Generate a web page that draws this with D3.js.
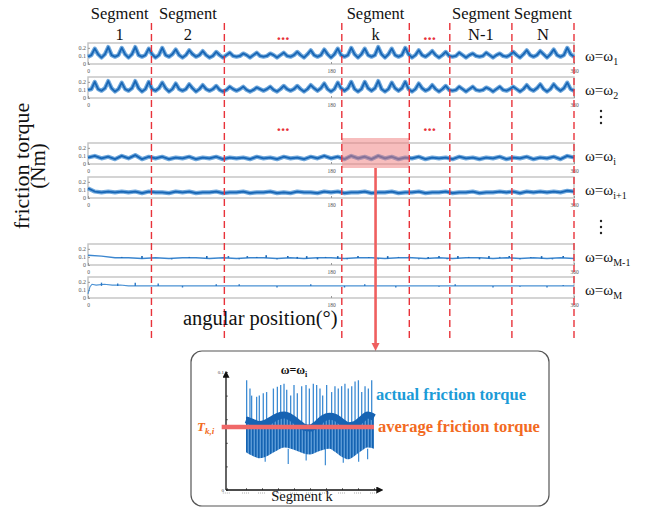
<!DOCTYPE html>
<html>
<head>
<meta charset="utf-8">
<script src="https://cdn.jsdelivr.net/npm/d3@7"></script>
<style>
  body { margin: 0; background: #fff; }
  svg { display: block; }
  text { font-family: "Liberation Serif", "Times New Roman", serif; }
</style>
</head>
<body>
<svg id="chart" width="645" height="508"></svg>
<script>
// ---- segment layout along the angular axis (degrees) ----
const segmentBoundaries = [47, 101, 188, 238, 268, 314, 360];
const segmentTitles = ["Segment", "Segment", "", "Segment", "", "Segment", "Segment"];
const segmentNames = ["1", "2", "...", "k", "...", "N-1", "N"];

// ---- panel axis ticks ----
const torqueTicks = [0, 0.1, 0.2];
const torqueTickLabels = ["0", "0.1", "0.2"];
const angleTicks = [0, 180, 360];

// ---- speed labels (subscripts of ω) ----
const speedSubscripts = ["1", "2", "i", "i+1", "M-1", "M"];

// ---- friction torque traces (Nm) ----
// ω1 and ω2 sampled every 2.5°
const torqueW1 = [
  0.09,0.11,0.19,0.12, 0.08,0.12,0.21,0.11, 0.09,0.11,0.20,0.12, 0.08,0.12,0.21,0.11,
  0.09,0.11,0.19,0.12, 0.08,0.11,0.20,0.11, 0.09,0.12,0.18,0.11, 0.08,0.11,0.17,0.12,
  0.09,0.11,0.16,0.11, 0.08,0.10,0.15,0.11, 0.08,0.11,0.14,0.10, 0.09,0.10,0.13,0.11,
  0.08,0.11,0.14,0.10, 0.09,0.10,0.13,0.11, 0.08,0.11,0.14,0.10, 0.09,0.11,0.15,0.11,
  0.08,0.12,0.17,0.11, 0.09,0.11,0.18,0.12, 0.08,0.12,0.19,0.11, 0.09,0.11,0.20,0.12,
  0.08,0.12,0.19,0.11, 0.09,0.11,0.21,0.12, 0.08,0.12,0.19,0.11, 0.09,0.11,0.20,0.12,
  0.08,0.11,0.17,0.11, 0.09,0.12,0.16,0.11, 0.08,0.11,0.15,0.10, 0.09,0.10,0.14,0.11,
  0.08,0.11,0.13,0.10, 0.09,0.10,0.14,0.11, 0.08,0.11,0.13,0.10, 0.09,0.11,0.15,0.11,
  0.08,0.12,0.17,0.11, 0.09,0.11,0.16,0.12, 0.08,0.12,0.18,0.11, 0.09,0.11,0.20,0.12,
  0.09];
const torqueW2 = [
  0.10,0.11,0.20,0.11, 0.09,0.12,0.21,0.12, 0.08,0.11,0.19,0.11, 0.09,0.12,0.21,0.12,
  0.08,0.11,0.20,0.11, 0.09,0.12,0.19,0.12, 0.08,0.11,0.18,0.11, 0.09,0.11,0.17,0.12,
  0.08,0.11,0.16,0.11, 0.09,0.11,0.15,0.10, 0.08,0.10,0.14,0.11, 0.09,0.11,0.14,0.10,
  0.08,0.10,0.13,0.11, 0.09,0.11,0.14,0.10, 0.08,0.11,0.15,0.11, 0.09,0.11,0.15,0.11,
  0.08,0.11,0.16,0.12, 0.09,0.12,0.18,0.11, 0.08,0.11,0.19,0.12, 0.09,0.12,0.20,0.11,
  0.08,0.11,0.20,0.12, 0.09,0.12,0.21,0.11, 0.08,0.11,0.19,0.12, 0.09,0.12,0.20,0.11,
  0.08,0.11,0.18,0.12, 0.09,0.11,0.16,0.11, 0.08,0.11,0.15,0.10, 0.09,0.10,0.14,0.11,
  0.08,0.11,0.14,0.10, 0.09,0.10,0.13,0.11, 0.08,0.11,0.14,0.10, 0.09,0.11,0.14,0.11,
  0.08,0.11,0.16,0.11, 0.09,0.12,0.17,0.11, 0.08,0.11,0.17,0.12, 0.09,0.12,0.19,0.11,
  0.09];
// ωi and ωi+1 sampled every 5°
const torqueWi = [
  0.08,0.10,0.07,0.09,0.06,0.10,0.07,0.11,0.06,0.09,
  0.07,0.09,0.06,0.08,0.07,0.09,0.06,0.08,0.07,0.09,
  0.06,0.08,0.07,0.08,0.06,0.09,0.07,0.08,0.06,0.09,
  0.07,0.08,0.06,0.09,0.07,0.10,0.07,0.09,0.06,0.10,
  0.07,0.09,0.06,0.10,0.07,0.09,0.06,0.08,0.07,0.09,
  0.06,0.08,0.07,0.08,0.06,0.09,0.07,0.08,0.06,0.08,
  0.07,0.09,0.06,0.08,0.07,0.09,0.06,0.08,0.07,0.09,
  0.06,0.10,0.08];
const torqueWi1 = [
  0.12,0.08,0.07,0.08,0.07,0.08,0.07,0.08,0.06,0.08,
  0.07,0.07,0.06,0.08,0.07,0.08,0.06,0.07,0.07,0.08,
  0.06,0.07,0.07,0.08,0.06,0.07,0.07,0.08,0.06,0.07,
  0.06,0.08,0.07,0.07,0.06,0.08,0.07,0.08,0.06,0.07,
  0.07,0.08,0.06,0.07,0.07,0.08,0.06,0.07,0.07,0.08,
  0.06,0.07,0.07,0.08,0.06,0.07,0.07,0.08,0.06,0.07,
  0.07,0.08,0.07,0.08,0.06,0.08,0.07,0.08,0.07,0.08,
  0.07,0.09,0.08];

// ω = ω_{M-1}: baseline sampled every 10° plus short spikes
const torqueWM1 = [
  0.12,0.11,0.09,0.09,0.08,0.09,0.08,0.09,0.09,0.08,
  0.09,0.08,0.09,0.09,0.08,0.09,0.08,0.09,0.09,0.08,
  0.09,0.09,0.08,0.09,0.09,0.08,0.09,0.08,0.09,0.09,
  0.08,0.09,0.08,0.09,0.08,0.09,0.08];
const spikeAngleWM1 = [4,8,25,40,62,75,88,104,112,118,125,132,140,148,155,162,170,176,185,192,
  200,208,215,222,230,238,245,252,260,266,274,282,290,297,305,312,320,328,336,344,352];
const spikeTorqueWM1 = [0.12,0.11,0.10,0.11,0.07,0.10,0.11,0.11,0.07,0.11,0.10,0.12,0.07,0.11,0.10,0.11,0.07,0.10,0.11,0.07,
  0.11,0.10,0.07,0.11,0.10,0.11,0.07,0.10,0.11,0.07,0.11,0.10,0.07,0.11,0.10,0.11,0.07,0.10,0.11,0.07,0.11];

// ω = ω_M: irregular sampling at start-up, then flat
const angleWM = [0, 1.5, 3, 6, 12, 18, 24, 30, 45, 60, 80, 100, 130, 160, 190, 220, 250, 280, 310, 340, 360];
const torqueWM = [0.05,0.14,0.17,0.16,0.17,0.16,0.16,0.15,0.15,0.15,0.15,0.15,0.15,0.15,0.15,0.15,0.15,0.15,0.15,0.15,0.15];
const spikeAngleWM = [10,22,35,52,70,95,112,140,165,190,205,228,260,272,300,320,340,352];
const spikeTorqueWM = [0.19,0.18,0.19,0.18,0.13,0.17,0.17,0.13,0.17,0.13,0.17,0.13,0.14,0.17,0.13,0.14,0.13,0.16];

// ---- zoomed segment k at ω = ω_i (position 0..100 within segment, torque in Nm) ----
const bandPos = [0,5,10,15,20,25,30,35,40,45,50,55,60,65,70,75,80,85,90,95,100];
const bandUpper = [0.062,0.060,0.058,0.059,0.062,0.065,0.066,0.064,0.060,0.056,0.055,0.058,0.063,0.065,0.064,0.060,0.057,0.058,0.062,0.066,0.064];
const bandLower = [0.032,0.029,0.027,0.028,0.031,0.034,0.036,0.035,0.033,0.031,0.030,0.032,0.034,0.035,0.032,0.028,0.026,0.029,0.033,0.036,0.035];
const peakPos = [0.5,3.1,4.4,8.3,10.4,13.5,16.1,21.4,24.5,27.1,29.7,31.8,34.9,37.5,40.1,43.5,46.9,49.5,
  52.6,55.2,57.8,59.9,63.0,66.9,69.5,72.1,74.7,77.3,79.9,82.6,85.2,87.8,90.4,93.0,95.6,98.2];
const peakTorque = [0.093,0.086,0.080,0.079,0.080,0.082,0.083,0.086,0.0875,0.089,0.090,0.085,0.080,0.089,0.082,0.088,0.089,0.086,
  0.090,0.089,0.086,0.080,0.089,0.083,0.088,0.086,0.088,0.090,0.086,0.088,0.092,0.093,0.083,0.088,0.086,0.093];
const dipPos = [15, 33, 47, 62, 76, 88, 95];
const dipTorque = [0.024, 0.022, 0.025, 0.021, 0.023, 0.024, 0.026];
const averageTorque = 0.0534;
const insetTorqueTicks = [0, 0.02, 0.04, 0.06, 0.08, 0.1];
const insetPosTicks = [-15, 0, 12.5, 25, 37.5, 50, 62.5, 75, 87.5, 100];

// ================= drawing =================
const svg = d3.select("#chart");
svg.append("rect").attr("width", 645).attr("height", 508).attr("fill", "#fff");

const defs = svg.append("defs");
const stripes = defs.append("pattern").attr("id", "stripes")
  .attr("patternUnits", "userSpaceOnUse").attr("width", 3).attr("height", 10);
stripes.append("rect").attr("width", 3).attr("height", 10).attr("fill", "#5b9ad6");
stripes.append("rect").attr("width", 1.6).attr("height", 10).attr("fill", "#1463b2");
defs.append("marker").attr("id", "blackArrow").attr("viewBox", "0 0 10 10")
  .attr("refX", 1).attr("refY", 5).attr("markerWidth", 7).attr("markerHeight", 7)
  .attr("orient", "auto").attr("markerUnits", "userSpaceOnUse")
  .append("path").attr("d", "M0,0 L10,5 L0,10 z").attr("fill", "#111");

const x = d3.scaleLinear().domain([0, 360]).range([88, 574]);
const rowTops = [43, 77, 143, 177, 244, 277];
const rowH = 21;
const blueCore = "#1866b5", blueHalo = "#6ea7dc";

const denseTraces = [torqueW1, torqueW2, torqueWi, torqueWi1];
const denseSteps = [2.5, 2.5, 5, 5];

rowTops.forEach((top, i) => {
  const g = svg.append("g");
  const y = d3.scaleLinear().domain([0, 0.26]).range([top + rowH, top]);

  g.append("rect").attr("x", x(0)).attr("y", top).attr("width", x(360) - x(0)).attr("height", rowH)
    .attr("fill", "#fff").attr("stroke", "#c2c2c2").attr("stroke-width", 1.4);

  const ya = g.append("g").attr("transform", `translate(${x(0)},0)`)
    .call(d3.axisLeft(y).tickValues(torqueTicks).tickFormat((d, k) => torqueTickLabels[k]).tickSize(-2).tickPadding(2));
  ya.select(".domain").remove();
  ya.selectAll("line").attr("stroke", "#999");
  ya.selectAll("text").attr("font-size", 6).attr("fill", "#555").attr("font-family", "Liberation Serif");

  const xa = g.append("g").attr("transform", `translate(0,${top + rowH})`)
    .call(d3.axisBottom(x).tickValues(angleTicks).tickSize(-2).tickPadding(5));
  xa.select(".domain").remove();
  xa.selectAll("line").attr("stroke", "#999");
  xa.selectAll("text").attr("font-size", 5.5).attr("fill", "#555").attr("font-family", "Liberation Serif");

  if (i < 4) {
    const vals = denseTraces[i], step = denseSteps[i];
    const line = d3.line().x((d, k) => x(k * step)).y(d => y(d));
    g.append("path").attr("d", line(vals)).attr("fill", "none")
      .attr("stroke", blueHalo).attr("stroke-width", 4.2).attr("stroke-linejoin", "round");
    g.append("path").attr("d", line(vals)).attr("fill", "none")
      .attr("stroke", blueCore).attr("stroke-width", 1.8).attr("stroke-linejoin", "round");
  } else if (i === 4) {
    const line = d3.line().x((d, k) => x(k * 10)).y(d => y(d));
    g.append("path").attr("d", line(torqueWM1)).attr("fill", "none")
      .attr("stroke", "#3b86cf").attr("stroke-width", 1.4);
    g.selectAll(".spk").data(spikeAngleWM1).enter().append("line")
      .attr("x1", d => x(d)).attr("x2", d => x(d))
      .attr("y1", d => y(torqueWM1[Math.round(d / 10)]))
      .attr("y2", (d, k) => y(spikeTorqueWM1[k]))
      .attr("stroke", blueCore).attr("stroke-width", 1.6);
  } else {
    const line = d3.line().x((d, k) => x(angleWM[k])).y(d => y(d));
    g.append("path").attr("d", line(torqueWM)).attr("fill", "none")
      .attr("stroke", "#4a91d4").attr("stroke-width", 1.1);
    g.selectAll(".spk").data(spikeAngleWM).enter().append("line")
      .attr("x1", d => x(d)).attr("x2", d => x(d))
      .attr("y1", y(0.15)).attr("y2", (d, k) => y(spikeTorqueWM[k]))
      .attr("stroke", "#2a78c6").attr("stroke-width", 1.4);
  }

  // ω label on the right
  const t = svg.append("text").attr("x", 585).attr("y", top + rowH / 2 + 7)
    .attr("font-size", 15).attr("fill", "#111");
  t.append("tspan").text("ω=ω");
  t.append("tspan").attr("font-size", 10).attr("dy", 4).text(speedSubscripts[i]);
});

// highlighted segment k on the ω_i row
svg.append("rect")
  .attr("x", x(segmentBoundaries[2])).attr("y", rowTops[2] - 5)
  .attr("width", x(segmentBoundaries[3]) - x(segmentBoundaries[2])).attr("height", rowH + 9)
  .attr("fill", "#ef7c7c").attr("opacity", 0.5);

// segment boundaries
svg.selectAll(".bound").data(segmentBoundaries).enter().append("line")
  .attr("x1", d => x(d)).attr("x2", d => x(d)).attr("y1", 23).attr("y2", 341)
  .attr("stroke", "#e8323a").attr("stroke-width", 1.4).attr("stroke-dasharray", "7,4");

// segment headings
segmentBoundaries.forEach((b, k) => {
  const left = k === 0 ? 0 : segmentBoundaries[k - 1];
  const cx = x((left + b) / 2);
  if (segmentTitles[k]) {
    svg.append("text").attr("x", cx).attr("y", 19).attr("text-anchor", "middle")
      .attr("font-size", 16.5).attr("fill", "#111").text(segmentTitles[k]);
  }
  const dots = segmentNames[k] === "...";
  svg.append("text").attr("x", cx).attr("y", 40).attr("text-anchor", "middle")
    .attr("font-size", dots ? 17 : 16.5).attr("font-weight", dots ? "bold" : "normal")
    .attr("fill", dots ? "#e8323a" : "#111").text(segmentNames[k]);
  if (dots) {
    svg.append("text").attr("x", cx).attr("y", 131).attr("text-anchor", "middle")
      .attr("font-size", 17).attr("font-weight", "bold").attr("fill", "#e8323a").text("...");
  }
});

// vertical ellipses between speed labels
[111, 221].forEach(yy => {
  [0, 6, 12].forEach(o => {
    svg.append("circle").attr("cx", 601).attr("cy", yy + o).attr("r", 1.2).attr("fill", "#222");
  });
});

// axis titles
svg.append("text").attr("transform", "translate(29,166) rotate(-90)").attr("text-anchor", "middle")
  .attr("font-size", 22).attr("fill", "#111").text("friction torque");
svg.append("text").attr("transform", "translate(45,166) rotate(-90)").attr("text-anchor", "middle")
  .attr("font-size", 21).attr("fill", "#111").text("(Nm)");
svg.append("text").attr("x", 183).attr("y", 325).attr("font-size", 20.5).attr("fill", "#111")
  .text("angular position(°)");

// connector arrow down to the zoomed view
const ax = x((segmentBoundaries[2] + segmentBoundaries[3]) / 2);
svg.append("line").attr("x1", ax).attr("x2", ax).attr("y1", rowTops[2] + rowH + 4).attr("y2", 344)
  .attr("stroke", "#ef5f5f").attr("stroke-width", 2.6);
svg.append("path").attr("d", `M${ax - 4},343 L${ax + 4},343 L${ax},351 z`).attr("fill", "#ef5f5f");

// ---------- zoomed view ----------
svg.append("rect").attr("x", 191).attr("y", 351).attr("width", 358).attr("height", 155).attr("rx", 11)
  .attr("fill", "#fff").attr("stroke", "#555").attr("stroke-width", 1.2);

const ix = d3.scaleLinear().domain([0, 100]).range([246, 374]);
const iy = d3.scaleLinear().domain([0, 0.1]).range([490, 372]);

const iya = svg.append("g").attr("transform", "translate(226,0)")
  .call(d3.axisLeft(iy).tickValues(insetTorqueTicks)
    .tickFormat(d => (d === 0 ? "0" : d === 0.1 ? "0.1" : "")).tickSize(-2).tickPadding(2));
iya.select(".domain").remove();
iya.selectAll("line").attr("stroke", "#777");
iya.selectAll("text").attr("font-size", 5).attr("fill", "#444").attr("font-family", "Liberation Serif");

const ixa = svg.append("g").attr("transform", "translate(0,490)")
  .call(d3.axisBottom(ix).tickValues(insetPosTicks).tickFormat("").tickSize(-2));
ixa.select(".domain").remove();
ixa.selectAll("line").attr("stroke", "#777");
svg.selectAll(".xdot").data(insetPosTicks).enter().append("line")
  .attr("x1", d => ix(d) - 4).attr("x2", d => ix(d) + 4).attr("y1", 493).attr("y2", 493)
  .attr("stroke", "#999").attr("stroke-width", 0.8).attr("stroke-dasharray", "1,1");

// axes with arrowheads
svg.append("line").attr("x1", 226).attr("y1", 490).attr("x2", 226).attr("y2", 377)
  .attr("stroke", "#111").attr("stroke-width", 1.3).attr("marker-end", "url(#blackArrow)");
svg.append("line").attr("x1", 226).attr("y1", 490).attr("x2", 377).attr("y2", 490)
  .attr("stroke", "#111").attr("stroke-width", 1.3).attr("marker-end", "url(#blackArrow)");

// torque spikes
svg.selectAll(".peak").data(peakPos).enter().append("line")
  .attr("x1", d => ix(d)).attr("x2", d => ix(d))
  .attr("y1", (d, k) => iy(peakTorque[k])).attr("y2", iy(0.045))
  .attr("stroke", "#3d8bd3").attr("stroke-width", 1.3);
svg.selectAll(".dip").data(dipPos).enter().append("line")
  .attr("x1", d => ix(d)).attr("x2", d => ix(d))
  .attr("y1", (d, k) => iy(dipTorque[k])).attr("y2", iy(0.035))
  .attr("stroke", "#3d8bd3").attr("stroke-width", 1.2);

// dense oscillation band
const band = d3.area().x((d, k) => ix(bandPos[k])).y0((d, k) => iy(bandLower[k])).y1(d => iy(d))
  .curve(d3.curveMonotoneX);
svg.append("path").attr("d", band(bandUpper)).attr("fill", "url(#stripes)");
const upperLine = d3.line().x((d, k) => ix(bandPos[k])).y(d => iy(d)).curve(d3.curveMonotoneX);
svg.append("path").attr("d", upperLine(bandUpper)).attr("transform", "translate(0,3)")
  .attr("fill", "none").attr("stroke", "#1663b3").attr("stroke-width", 7);

// average torque line
svg.append("line").attr("x1", ix(-19)).attr("x2", ix(100)).attr("y1", iy(averageTorque)).attr("y2", iy(averageTorque))
  .attr("stroke", "#f06868").attr("stroke-width", 4.5);

// labels in the zoomed view
const wt = svg.append("text").attr("x", 294).attr("y", 374).attr("text-anchor", "middle")
  .attr("font-size", 12).attr("font-weight", "bold").attr("fill", "#111");
wt.append("tspan").text("ω=ω");
wt.append("tspan").attr("font-size", 8).attr("dy", 2.5).text("i");

const tk = svg.append("text").attr("x", 197).attr("y", 431)
  .attr("font-size", 13).attr("font-weight", "bold").attr("font-style", "italic").attr("fill", "#f26a22");
tk.append("tspan").text("T");
tk.append("tspan").attr("font-size", 9).attr("dy", 3).text("k,i");

svg.append("text").attr("x", 376).attr("y", 400).attr("font-size", 16.5).attr("font-weight", "bold")
  .attr("fill", "#1b9bd7").text("actual friction torque");
svg.append("text").attr("x", 378).attr("y", 432).attr("font-size", 16.5).attr("font-weight", "bold")
  .attr("fill", "#f26a22").text("average friction torque");
svg.append("text").attr("x", 302).attr("y", 501).attr("text-anchor", "middle")
  .attr("font-size", 14.5).attr("fill", "#111").text("Segment k");
</script>
</body>
</html>
